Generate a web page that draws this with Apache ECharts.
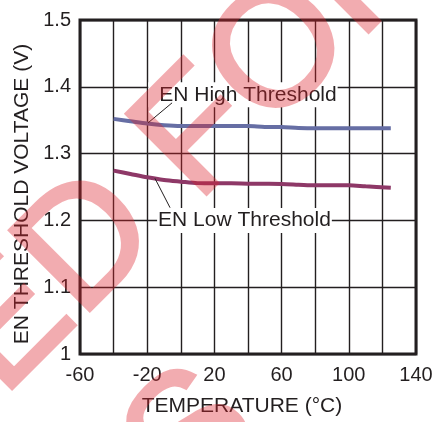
<!DOCTYPE html>
<html>
<head>
<meta charset="utf-8">
<script src="https://cdn.jsdelivr.net/npm/echarts@6/dist/echarts.min.js"></script>
<style>html,body{margin:0;padding:0;background:#fff;}#c{width:443px;height:422px;}</style>
</head>
<body>
<div id="c"></div>
<script>
const temps = [-40, -30, -20, -10, 0, 10, 20, 30, 40, 50, 60, 70, 80, 90, 100, 110, 125];
const highThreshold = [1.352, 1.3485, 1.345, 1.3425, 1.3413, 1.3413, 1.3413, 1.3413, 1.3412, 1.340, 1.3398, 1.3385, 1.338, 1.338, 1.338, 1.338, 1.338];
const lowThreshold = [1.2745, 1.2695, 1.2645, 1.2605, 1.258, 1.2558, 1.2555, 1.2555, 1.255, 1.2548, 1.2545, 1.2535, 1.2525, 1.2525, 1.2525, 1.251, 1.249];
const xTickLabels = [-60, -20, 20, 60, 100, 140];
const seriesNames = ['EN High Threshold', 'EN Low Threshold'];
const watermarkLines = ['NOT RECOMMENDED FOR', 'NEW DESIGNS'];

const ink = '#231f20';
const font = 'Liberation Sans, Arial, sans-serif';
const chart = echarts.init(document.getElementById('c'), null, {renderer: 'canvas'});

const wmStyle = {fontSize: 165, fontFamily: font, fill: '#de222c', stroke: '#de222c', lineWidth: 3.5,
  align: 'right', verticalAlign: 'middle'};

chart.setOption({
  animation: false,
  backgroundColor: '#fff',
  grid: {left: 80, right: 27, top: 20, bottom: 68, show: true, borderColor: ink, borderWidth: 3, z: 3},
  xAxis: {
    type: 'value', min: -60, max: 140, interval: 20,
    name: 'TEMPERATURE (°C)', nameLocation: 'middle', nameGap: 42,
    nameTextStyle: {fontSize: 21, color: ink, fontFamily: font, padding: [0, 12, 0, 0]},
    axisLine: {show: false},
    axisTick: {show: false},
    axisLabel: {fontSize: 20, color: ink, fontFamily: font, margin: 11,
      formatter: v => xTickLabels.indexOf(v) >= 0 ? String(v) : ''},
    splitLine: {show: true, lineStyle: {color: ink, width: 1.4}}
  },
  yAxis: {
    type: 'value', min: 1, max: 1.5, interval: 0.1,
    name: 'EN THRESHOLD VOLTAGE (V)', nameLocation: 'middle', nameGap: 47,
    nameTextStyle: {fontSize: 21, color: ink, fontFamily: font, padding: [0, 14, 0, 0]},
    axisLine: {show: false},
    axisTick: {show: false},
    axisLabel: {fontSize: 20, color: ink, fontFamily: font, margin: 9,
      formatter: v => Math.abs(v - 1) < 1e-9 ? '1' : v.toFixed(1)},
    splitLine: {show: true, lineStyle: {color: ink, width: 1.4}}
  },
  series: [
    {
      name: seriesNames[0], type: 'line', smooth: 0.3, symbol: 'none',
      data: temps.map((t, i) => [t, highThreshold[i]]),
      lineStyle: {color: '#666ea4', width: 4},
      markLine: {silent: true, symbol: 'none', z: 6, label: {show: false},
        lineStyle: {color: ink, width: 1, type: 'solid'},
        data: [[{coord: [-19.5, 1.346]}, {coord: [-5.2, 1.376]}]]},
      markPoint: {silent: true, z: 3, symbol: 'rect', symbolSize: 0,
        data: [{coord: [37, 1.388], value: seriesNames[0]}],
        label: {show: true, position: 'inside', formatter: seriesNames[0], fontSize: 21, color: ink, fontFamily: font,
          backgroundColor: '#fff', padding: [2, 1, 2, 11]}}
    },
    {
      name: seriesNames[1], type: 'line', smooth: 0.3, symbol: 'none',
      data: temps.map((t, i) => [t, lowThreshold[i]]),
      lineStyle: {color: '#8e3867', width: 4},
      markLine: {silent: true, symbol: 'none', z: 6, label: {show: false},
        lineStyle: {color: ink, width: 1, type: 'solid'},
        data: [[{coord: [-15.4, 1.263]}, {coord: [-6.4, 1.219]}]]},
      markPoint: {silent: true, z: 3, symbol: 'rect', symbolSize: 0,
        data: [{coord: [37.9, 1.2], value: seriesNames[1]}],
        label: {show: true, position: 'inside', formatter: seriesNames[1], fontSize: 21, color: ink, fontFamily: font,
          backgroundColor: '#fff', padding: [2, 1, 2, 1]}}
    }
  ],
  graphic: [
    {type: 'text', x: 411, y: -75, rotation: Math.PI / 4, zlevel: 1, z: 100, silent: true,
      style: Object.assign({text: watermarkLines[0]}, wmStyle)},
    {type: 'text', x: 233, y: 399, rotation: Math.PI / 4, zlevel: 1, z: 100, silent: true,
      style: Object.assign({text: watermarkLines[1]}, wmStyle)}
  ]
});
try {
  const layer = chart.getZr().painter.getLayer(1);
  if (layer && layer.dom) layer.dom.style.opacity = '0.37';
} catch (e) {}
</script>
</body>
</html>
